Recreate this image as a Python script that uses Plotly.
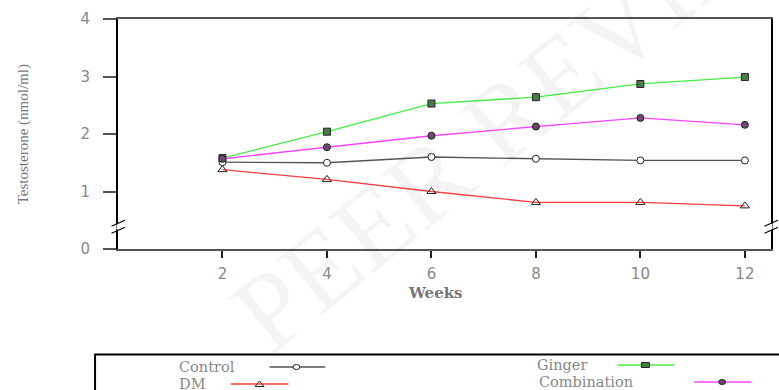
import plotly.graph_objects as go

weeks = [2, 4, 6, 8, 10, 12]
control = [1.51, 1.50, 1.60, 1.57, 1.54, 1.54]
dm = [1.38, 1.21, 1.00, 0.81, 0.81, 0.75]
ginger = [1.58, 2.04, 2.53, 2.64, 2.87, 2.99]
combination = [1.57, 1.77, 1.97, 2.13, 2.28, 2.16]
y_ticks = [0, 1, 2, 3, 4]
x_ticks = [2, 4, 6, 8, 10, 12]

W, H = 779, 390
L, R, T, B = 118, 6, 19, 141
PW, PH = W - L - R, H - T - B


def px(x):
    return (x - L) / PW


def py(y):
    return (H - B - y) / PH


GRAY_TXT = "#888888"

fig = go.Figure()

series = [
    ("Control", control, "#555555", dict(symbol="circle", size=7, color="white", line=dict(color="#222", width=1))),
    ("DM", dm, "#ff4040", dict(symbol="triangle-up-open", size=8, color="#222", line=dict(color="#222", width=1))),
    ("Ginger", ginger, "#44ee44", dict(symbol="square", size=7, color="#4a7a4a", line=dict(color="#222", width=1))),
    ("Combination", combination, "#ff44ff", dict(symbol="circle", size=7, color="#6e4a6e", line=dict(color="#222", width=1))),
]
for name, vals, col, mk in series:
    fig.add_trace(go.Scatter(x=weeks, y=vals, mode="lines+markers", name=name,
                             line=dict(color=col, width=1.3), marker=mk,
                             cliponaxis=False, showlegend=False))

shapes = []
ann = []


def brk(xc):
    s = []
    s.append(dict(type="line", xref="paper", yref="paper", x0=px(xc), x1=px(xc),
                  y0=py(229.5), y1=py(223.5), line=dict(color="white", width=3)))
    for dy in (0, 7):
        s.append(dict(type="line", xref="paper", yref="paper",
                      x0=px(xc - 6.5), y0=py(233.3 - dy), x1=px(xc + 7), y1=py(227.3 - dy),
                      line=dict(color="black", width=1.2)))
    return s


shapes += brk(118)
shapes += brk(773)

# legend box
shapes.append(dict(type="rect", xref="paper", yref="paper", x0=px(95), x1=px(820),
                   y0=py(440), y1=py(354.5), line=dict(color="black", width=2)))

leg = [
    ("Control", 177, 367, 270, 326, 297, "#555555", "circle", "white"),
    ("DM", 177, 384, 231, 289, 260, "#ff4040", "tri", None),
    ("Ginger", 536, 365, 619, 676, 647, "#44ee44", "square", "#4a7a4a"),
    ("Combination", 538, 382, 696, 753, 724, "#ff44ff", "circle", "#6e4a6e"),
]
for name, tx, ty, lx0, lx1, mx, col, sym, fill in leg:
    ann.append(dict(text=name, x=px(tx), y=py(ty), xref="paper", yref="paper",
                    xanchor="left", yanchor="middle", showarrow=False,
                    font=dict(family="DejaVu Serif", size=14.5, color=GRAY_TXT)))
    shapes.append(dict(type="line", xref="paper", yref="paper", x0=px(lx0), x1=px(lx1),
                       y0=py(ty), y1=py(ty), line=dict(color=col, width=1.3)))
    base = dict(xref="paper", yref="paper", xsizemode="pixel", ysizemode="pixel",
                xanchor=px(mx), yanchor=py(ty), line=dict(color="#222", width=1))
    if sym == "circle":
        shapes.append(dict(type="circle", x0=-3.5, x1=3.5, y0=-2.5, y1=2.5, fillcolor=fill, **base))
    elif sym == "square":
        shapes.append(dict(type="rect", x0=-4, x1=4, y0=-2.5, y1=2.5, fillcolor=fill, **base))
    else:
        shapes.append(dict(type="path", path="M -4.5,-2.5 L 4.5,-2.5 L 0,3 Z", **base))

# axis titles
ann.append(dict(text="<b>Weeks</b>", x=px(436), y=py(293), xref="paper", yref="paper",
                showarrow=False, xanchor="center", yanchor="middle",
                font=dict(family="DejaVu Serif", size=15, color="#777777")))
ann.append(dict(text="Testosterone (nmol/ml)", x=px(23), y=py(134), xref="paper", yref="paper",
                showarrow=False, textangle=-90, xanchor="center", yanchor="middle",
                font=dict(family="Liberation Serif", size=15, color="#777777")))

# watermark
ann.append(dict(text="PEER REVIEW", x=px(530), y=py(100), xref="paper", yref="paper",
                showarrow=False, textangle=-39, xanchor="center", yanchor="middle",
                font=dict(family="Liberation Serif", size=110, color="rgba(0,0,0,0.045)")))

fig.update_layout(
    width=W, height=H, autosize=False,
    margin=dict(l=L, r=R, t=T, b=B, pad=0),
    paper_bgcolor="white", plot_bgcolor="white",
    shapes=shapes, annotations=ann, showlegend=False,
    xaxis=dict(range=[0, 12.5], tickvals=x_ticks, ticktext=[str(v) for v in x_ticks],
               showgrid=False, zeroline=False, showline=True, linecolor="#555555",
               linewidth=1.5, mirror=True, ticks="outside", ticklen=7, tickwidth=1.5,
               tickcolor="#222", ticklabelstandoff=3,
               tickfont=dict(family="DejaVu Sans", size=15, color=GRAY_TXT)),
    yaxis=dict(range=[0, 4], tickvals=y_ticks, ticktext=[str(v) for v in y_ticks],
               showgrid=False, zeroline=False, showline=True, linecolor="black",
               linewidth=2, mirror=True, ticks="outside", ticklen=13, tickwidth=1.5,
               tickcolor="#555555", ticklabelstandoff=10,
               tickfont=dict(family="DejaVu Sans", size=15, color=GRAY_TXT)),
)

fig.write_html("out.html", config={"displayModeBar": False},
               post_script="document.body.style.margin='0';document.body.style.overflow='hidden';")
